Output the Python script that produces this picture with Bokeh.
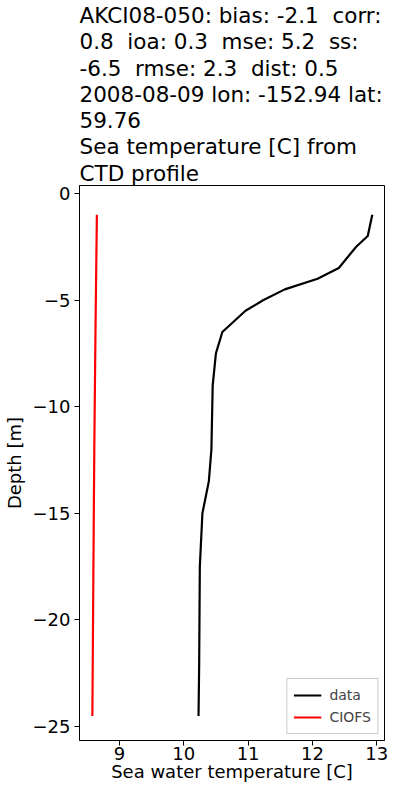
from bokeh.plotting import figure
from bokeh.models import Range1d, FixedTicker, CustomJSTickFormatter, Legend, LegendItem, Title
from bokeh.embed import file_html
from bokeh.resources import INLINE

# Observed CTD profile
data_depth = [-1, -2, -2.5, -3.5, -4, -4.5, -5, -5.5, -6.5, -7.5, -9, -12, -13.5, -15, -17.5, -22, -24.5]
data_temp = [12.93, 12.86, 12.68, 12.41, 12.08, 11.57, 11.24, 10.96, 10.60, 10.50, 10.45, 10.43, 10.39, 10.29, 10.25, 10.24, 10.23]

# CIOFS model profile
model_depth = [-1, -6, -12, -18, -24.5]
model_temp = [8.65, 8.63, 8.61, 8.595, 8.58]

x_ticks = [9, 10, 11, 12, 13]
y_ticks = [0, -5, -10, -15, -20, -25]

title_lines = [
    "AKCI08-050: bias: -2.1  corr:",
    "0.8  ioa: 0.3  mse: 5.2  ss:",
    "-6.5  rmse: 2.3  dist: 0.5",
    "2008-08-09 lon: -152.94 lat:",
    "59.76",
    "Sea temperature [C] from",
    "CTD profile",
]

FONT = "DejaVu Sans"

p = figure(width=388, height=784, output_backend="svg", toolbar_location=None,
           x_range=Range1d(8.38, 13.12), y_range=Range1d(-25.65, 0.37),
           min_border_left=72, min_border_right=4, min_border_top=0, min_border_bottom=0)

title_text = "\n".join(l.replace("  ", "\u00a0 ") for l in title_lines)
p.title = Title(text=title_text, align="left", text_font=FONT, text_font_size="21.5px",
                text_font_style="normal", text_color="black", standoff=0,
                text_line_height=1.05, offset=0)

p.xgrid.visible = False
p.ygrid.visible = False
p.outline_line_color = "black"
p.outline_line_width = 1
p.background_fill_color = "white"
p.border_fill_color = "white"

r_data = p.line(data_temp, data_depth, line_color="black", line_width=2.2)
r_model = p.line(model_temp, model_depth, line_color="red", line_width=2.2)

for ax in (p.xaxis[0], p.yaxis[0]):
    ax.major_tick_in = 0
    ax.major_tick_out = 5
    ax.minor_tick_line_color = None
    ax.major_tick_line_color = "black"
    ax.axis_line_color = "black"
    ax.major_label_text_font = FONT
    ax.major_label_text_font_size = "18px"
    ax.major_label_text_color = "black"
    ax.axis_label_text_font = FONT
    ax.axis_label_text_font_size = "18px"
    ax.axis_label_text_font_style = "normal"
    ax.axis_label_text_color = "black"

p.xaxis[0].ticker = FixedTicker(ticks=x_ticks)
p.yaxis[0].ticker = FixedTicker(ticks=y_ticks)
fmt = CustomJSTickFormatter(code="return String(tick).replace('-', '\u2212');")
p.yaxis[0].formatter = fmt
p.xaxis[0].axis_label = "Sea water temperature [C]"
p.yaxis[0].axis_label = "Depth [m]"
p.xaxis[0].major_label_standoff = 1
p.xaxis[0].axis_label_standoff = -2
p.yaxis[0].major_label_standoff = 4
p.yaxis[0].axis_label_standoff = 5

legend = Legend(items=[LegendItem(label="data", renderers=[r_data]),
                       LegendItem(label="CIOFS", renderers=[r_model])],
                location="bottom_right", label_text_font=FONT, label_text_font_size="14px",
                border_line_color="#cccccc", border_line_alpha=1.0, background_fill_alpha=0.8,
                glyph_width=28, label_standoff=8, spacing=2, padding=6, margin=6)
p.add_layout(legend)

open("out.html", "w").write(file_html(p, INLINE))
